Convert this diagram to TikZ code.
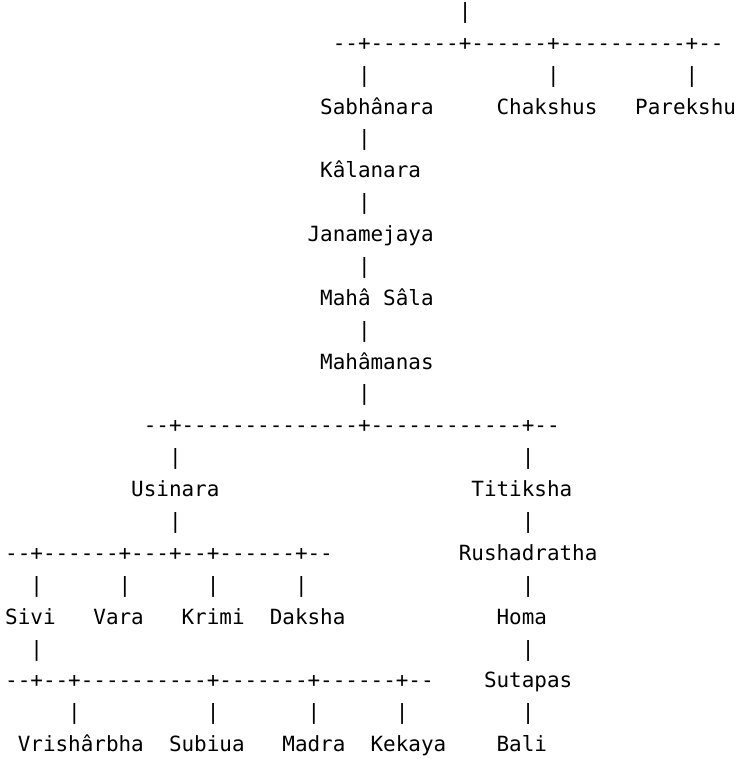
\documentclass[tikz,border=0pt]{standalone}
\usepackage{fontspec}
\setmonofont{DejaVu Sans Mono}
\usepackage{tikz}

\begin{document}
\begin{tikzpicture}[x=9.45pt,y=-23.91pt]
        \tikzstyle{kin}=[anchor=base west,inner sep=0pt,outer sep=0pt,font=\ttfamily\fontsize{15.7pt}{23.9pt}\selectfont]
        \tikzstyle{link}=[kin]

        \useasboundingbox (-3.9pt,13.8pt) rectangle (559.35pt,-555.45pt);

        % upper line
        \node[link] (v0) at (36,0) {|};
        \node[link] (r1) at (26,1) {--+-------+------+----------+--};
        \node[link] (v2a) at (28,2) {|};
        \node[link] (v2b) at (43,2) {|};
        \node[link] (v2c) at (54,2) {|};
        \node[kin] (sabhanara) at (25,3) {Sabhânara};
        \node[kin] (chakshus) at (39,3) {Chakshus};
        \node[kin] (parekshu) at (50,3) {Parekshu};
        \node[link] (v4) at (28,4) {|};
        \node[kin] (kalanara) at (25,5) {Kâlanara};
        \node[link] (v6) at (28,6) {|};
        \node[kin] (janamejaya) at (24,7) {Janamejaya};
        \node[link] (v8) at (28,8) {|};
        \node[kin] (mahasala) at (25,9) {Mahâ Sâla};
        \node[link] (v10) at (28,10) {|};
        \node[kin] (mahamanas) at (25,11) {Mahâmanas};
        \node[link] (v12) at (28,12) {|};

        % two sons
        \node[link] (r13) at (11,13) {--+--------------+------------+--};
        \node[link] (v14a) at (13,14) {|};
        \node[link] (v14b) at (41,14) {|};
        \node[kin] (usinara) at (10,15) {Usinara};
        \node[kin] (titiksha) at (37,15) {Titiksha};
        \node[link] (v16a) at (13,16) {|};
        \node[link] (v16b) at (41,16) {|};

        % Usinara's sons
        \node[link] (r17) at (0,17) {--+------+---+--+------+--};
        \node[kin] (rushadratha) at (36,17) {Rushadratha};
        \node[link] (v18a) at (2,18) {|};
        \node[link] (v18b) at (9,18) {|};
        \node[link] (v18c) at (16,18) {|};
        \node[link] (v18d) at (23,18) {|};
        \node[link] (v18e) at (41,18) {|};
        \node[kin] (sivi) at (0,19) {Sivi};
        \node[kin] (vara) at (7,19) {Vara};
        \node[kin] (krimi) at (14,19) {Krimi};
        \node[kin] (daksha) at (21,19) {Daksha};
        \node[kin] (homa) at (39,19) {Homa};
        \node[link] (v20a) at (2,20) {|};
        \node[link] (v20b) at (41,20) {|};

        % Sivi's sons
        \node[link] (r21) at (0,21) {--+--+----------+-------+------+--};
        \node[kin] (sutapas) at (38,21) {Sutapas};
        \node[link] (v22a) at (5,22) {|};
        \node[link] (v22b) at (16,22) {|};
        \node[link] (v22c) at (24,22) {|};
        \node[link] (v22d) at (31,22) {|};
        \node[link] (v22e) at (41,22) {|};
        \node[kin] (vrisharbha) at (1,23) {Vrishârbha};
        \node[kin] (subiua) at (13,23) {Subiua};
        \node[kin] (madra) at (22,23) {Madra};
        \node[kin] (kekaya) at (29,23) {Kekaya};
        \node[kin] (bali) at (39,23) {Bali};

\end{tikzpicture}
\end{document}
